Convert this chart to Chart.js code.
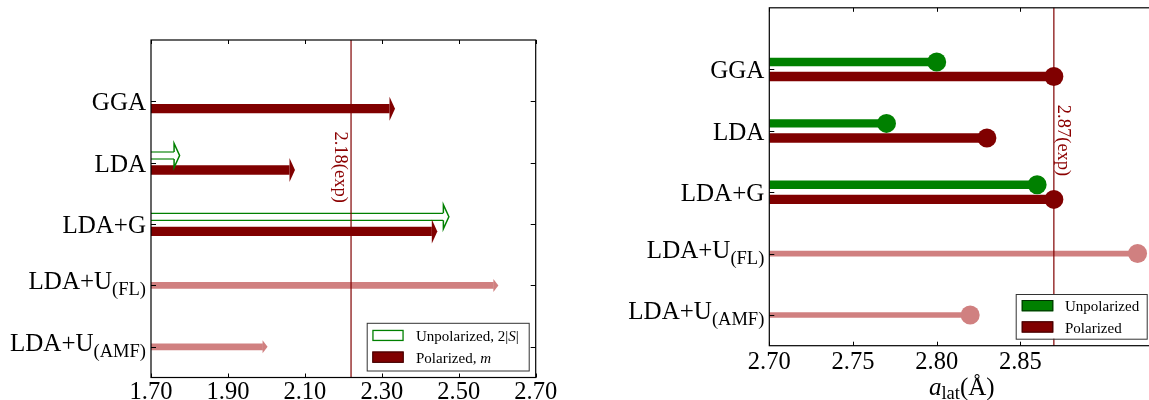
<!DOCTYPE html>
<html><head><meta charset="utf-8">
<script src="https://cdn.jsdelivr.net/npm/chart.js@4.4.1/dist/chart.umd.min.js"></script>
<style>
html,body{margin:0;padding:0;background:#fff;overflow:hidden;width:1149px;height:400px;position:relative;}
#cl{position:absolute;left:0;top:0;}
#cr{position:absolute;left:600px;top:0;}
</style></head><body>
<canvas id="cl" width="600" height="400"></canvas>
<canvas id="cr" width="570" height="400"></canvas>
<script>
// ---- data ----
const methods = ['GGA', 'LDA', 'LDA+G', 'LDA+U', 'LDA+U'];
const methodSubs = ['', '', '', '(FL)', '(AMF)'];

// left panel: magnetic moment
const momentUnpolarized = [null, 1.76, 2.46, null, null];   // 2|S|
const momentPolarized   = [2.32, 2.06, 2.43, null, null];   // m
const momentLdaU        = [null, null, null, 2.59, 1.99];
const momentTicks = [1.70, 1.90, 2.10, 2.30, 2.50, 2.70];
const momentExpLine = 2.22;
const momentExpLabel = '2.18(exp)';

// right panel: lattice constant
const latticeUnpolarized = [2.80, 2.77, 2.86, null, null];
const latticePolarized   = [2.87, 2.83, 2.87, null, null];
const latticeLdaU        = [null, null, null, 2.92, 2.82];
const latticeTicks = [2.70, 2.75, 2.80, 2.85];
const latticeExpLine = 2.87;
const latticeExpLabel = '2.87(exp)';

// ---- styles ----
const FONT = '"Liberation Serif", "Times New Roman", serif';
const GREEN = '#008000', MAROON = '#800000', PINK = '#d08080';

function rows(values) {
  return values.map((v, i) => v == null ? null : { x: v, y: i }).filter(Boolean);
}

function drawRich(ctx, parts, x, y, size) {
  let cx = x;
  parts.forEach(p => {
    ctx.font = (p.italic ? 'italic ' : '') + size + 'px ' + FONT;
    ctx.fillText(p.t, cx, y);
    cx += ctx.measureText(p.t).width;
  });
}

const decor = {
  id: 'decor',
  afterDatasetsDraw(chart, args, o) {
    const ctx = chart.ctx, ca = chart.chartArea, xs = chart.scales.x, ys = chart.scales.y;
    // end caps (arrow heads / circles) at bar ends computed by Chart.js
    chart.data.datasets.forEach((ds, di) => {
      const cap = ds.endCap; if (!cap) return;
      const meta = chart.getDatasetMeta(di);
      meta.data.forEach(el => {
        const x = el.x, y = el.y, bh = el.height / 2;
        ctx.save();
        if (cap.type === 'circle') {
          ctx.beginPath(); ctx.arc(x, y, cap.r, 0, Math.PI * 2);
          ctx.fillStyle = cap.fill; ctx.fill();
        } else {
          ctx.beginPath();
          ctx.moveTo(x, y - cap.half); ctx.lineTo(x + cap.len, y); ctx.lineTo(x, y + cap.half); ctx.closePath();
          ctx.fillStyle = cap.fill; ctx.fill();
          if (cap.stroke) {
            const lw = cap.lw;
            ctx.beginPath();
            ctx.moveTo(x, y - bh + lw / 2); ctx.lineTo(x, y - cap.half);
            ctx.lineTo(x + cap.len, y); ctx.lineTo(x, y + cap.half); ctx.lineTo(x, y + bh - lw / 2);
            ctx.strokeStyle = cap.stroke; ctx.lineWidth = lw; ctx.stroke();
          }
        }
        ctx.restore();
      });
    });
    ctx.save();
    // experimental line
    const lx = xs.getPixelForValue(o.expValue);
    ctx.strokeStyle = MAROON; ctx.lineWidth = 1.2;
    ctx.beginPath(); ctx.moveTo(lx, ca.top); ctx.lineTo(lx, ca.bottom); ctx.stroke();
    // rotated label
    ctx.save();
    ctx.translate(lx + o.expDx, ys.getPixelForValue(o.expY));
    ctx.rotate(Math.PI / 2);
    ctx.fillStyle = '#8b0000'; ctx.font = '18.5px ' + FONT;
    ctx.textAlign = 'left'; ctx.textBaseline = 'alphabetic';
    ctx.fillText(o.expLabel, 0, 0);
    ctx.restore();
    // frame
    ctx.strokeStyle = '#000'; ctx.lineWidth = 1.2;
    ctx.strokeRect(ca.left, ca.top, ca.right - ca.left, ca.bottom - ca.top);
    // inward ticks
    ctx.lineWidth = 1;
    ctx.beginPath();
    xs.ticks.forEach(t => {
      const px = Math.round(xs.getPixelForValue(t.value)) + 0.5;
      ctx.moveTo(px, ca.bottom); ctx.lineTo(px, ca.bottom - 4);
      ctx.moveTo(px, ca.top); ctx.lineTo(px, ca.top + 4);
    });
    ys.ticks.forEach(t => {
      const py = Math.round(ys.getPixelForValue(t.value)) + 0.5;
      ctx.moveTo(ca.left, py); ctx.lineTo(ca.left + 5, py);
      ctx.moveTo(ca.right, py); ctx.lineTo(ca.right - 5, py);
    });
    ctx.stroke();
    // category labels with subscripts
    ctx.fillStyle = '#000'; ctx.textBaseline = 'alphabetic'; ctx.textAlign = 'left';
    methods.forEach((m, i) => {
      const py = ys.getPixelForValue(i);
      const sub = methodSubs[i];
      ctx.font = '25px ' + FONT; const w1 = ctx.measureText(m).width;
      let w2 = 0;
      if (sub) { ctx.font = '18.5px ' + FONT; w2 = ctx.measureText(sub).width; }
      const x0 = ca.left - 5 - w1 - w2;
      const base = sub ? py + 4 : py + 9;
      ctx.font = '25px ' + FONT; ctx.fillText(m, x0, base);
      if (sub) { ctx.font = '18.5px ' + FONT; ctx.fillText(sub, x0 + w1, base + 6); }
    });
    // axis title
    if (o.title) {
      let tw = 0;
      o.title.forEach(p => { ctx.font = (p.italic ? 'italic ' : '') + p.size + 'px ' + FONT; tw += ctx.measureText(p.t).width; });
      let cx = (ca.left + ca.right) / 2 - tw / 2;
      o.title.forEach(p => {
        ctx.font = (p.italic ? 'italic ' : '') + p.size + 'px ' + FONT;
        ctx.fillText(p.t, cx, o.titleY + (p.dy || 0));
        cx += ctx.measureText(p.t).width;
      });
    }
    // legend
    const L = o.legend;
    const bx = ca.right - L.gapR - L.w, by = ca.bottom - L.gapB - L.h;
    ctx.fillStyle = '#fff'; ctx.fillRect(bx, by, L.w, L.h);
    ctx.strokeStyle = '#333'; ctx.lineWidth = 1; ctx.strokeRect(bx + 0.5, by + 0.5, L.w, L.h);
    L.items.forEach((it, k) => {
      const px = bx + L.px, py = by + L.rows[k];
      ctx.fillStyle = it.fill; ctx.fillRect(px, py, L.pw, L.ph);
      ctx.strokeStyle = it.stroke; ctx.lineWidth = it.lw;
      ctx.strokeRect(px + it.lw / 2, py + it.lw / 2, L.pw - it.lw, L.ph - it.lw);
      ctx.fillStyle = '#000';
      drawRich(ctx, it.parts, px + L.pw + L.tg, py + L.ph, 15);
    });
    ctx.restore();
  }
};

function xScale(min, max, ticks, height, pad) {
  return {
    type: 'linear', min: min, max: max, offset: false, beginAtZero: false,
    afterBuildTicks: s => { s.ticks = ticks.map(v => ({ value: v })); },
    ticks: { font: { family: FONT, size: 24.5 }, color: '#000', padding: pad, maxRotation: 0, autoSkip: false,
             callback: v => Number(v).toFixed(2) },
    grid: { display: false, drawTicks: false, offset: false }, border: { display: false },
    afterFit: s => { s.height = height; }
  };
}
function yScale() {
  return {
    type: 'linear', reverse: true, min: -1, max: 4.5, offset: false,
    afterBuildTicks: s => { s.ticks = methods.map((m, i) => ({ value: i })); },
    ticks: { display: false }, grid: { display: false, drawTicks: false, offset: false }, border: { display: false },
    afterFit: s => { s.width = 0; }
  };
}

new Chart(document.getElementById('cl'), {
  type: 'bar',
  data: { datasets: [
    { label: 'Unpolarized, 2|S|', data: rows(momentUnpolarized), base: 1.70,
      backgroundColor: '#fff', borderColor: GREEN, borderWidth: { top: 1.5, bottom: 1.5, left: 0, right: 0 }, borderSkipped: false,
      categoryPercentage: 0.475, barPercentage: 0.58,
      endCap: { type: 'arrow', half: 12, len: 5.5, fill: '#fff', stroke: GREEN, lw: 1.5 } },
    { label: 'Polarized, m', data: rows(momentPolarized), base: 1.70,
      backgroundColor: MAROON, borderWidth: 0, categoryPercentage: 0.475, barPercentage: 0.64,
      endCap: { type: 'arrow', half: 12, len: 5.5, fill: MAROON } },
    { label: 'LDA+U', data: rows(momentLdaU), base: 1.70, grouped: false, barThickness: 6,
      backgroundColor: PINK, borderWidth: 0,
      endCap: { type: 'arrow', half: 6.5, len: 5, fill: PINK } }
  ] },
  options: {
    indexAxis: 'y', responsive: false, animation: false, events: [],
    layout: { padding: { left: 151, right: 64.3, top: 40, bottom: 0 } },
    plugins: {
      legend: { display: false }, tooltip: { enabled: false },
      decor: {
        expValue: momentExpLine, expLabel: momentExpLabel, expDx: -15.6, expY: 0.49,
        legend: { w: 162, h: 47.7, gapR: 7, gapB: 7, px: 5.6, pw: 31.4, ph: 11.3, tg: 12.3, rows: [7, 28.7],
          items: [
            { fill: '#fff', stroke: GREEN, lw: 1.3, parts: [{ t: 'Unpolarized, 2|' }, { t: 'S', italic: true }, { t: '|' }] },
            { fill: MAROON, stroke: '#3a0000', lw: 1, parts: [{ t: 'Polarized, ' }, { t: 'm', italic: true }] }
          ] }
      }
    },
    scales: { x: xScale(1.70, 2.70, momentTicks, 22.5, 0), y: yScale() }
  },
  plugins: [decor]
});

new Chart(document.getElementById('cr'), {
  type: 'bar',
  data: { datasets: [
    { label: 'Unpolarized', data: rows(latticeUnpolarized), base: 2.70,
      backgroundColor: GREEN, borderWidth: 0, categoryPercentage: 0.475, barPercentage: 0.58,
      endCap: { type: 'circle', r: 9.5, fill: GREEN } },
    { label: 'Polarized', data: rows(latticePolarized), base: 2.70,
      backgroundColor: MAROON, borderWidth: 0, categoryPercentage: 0.475, barPercentage: 0.64,
      endCap: { type: 'circle', r: 9.5, fill: MAROON } },
    { label: 'LDA+U', data: rows(latticeLdaU), base: 2.70, grouped: false, barThickness: 5,
      backgroundColor: PINK, borderWidth: 0,
      endCap: { type: 'circle', r: 9.5, fill: PINK } }
  ] },
  options: {
    indexAxis: 'y', responsive: false, animation: false, events: [],
    layout: { padding: { left: 169.3, right: 15.7, top: 7.8, bottom: 0 } },
    plugins: {
      legend: { display: false }, tooltip: { enabled: false },
      decor: {
        expValue: latticeExpLine, expLabel: latticeExpLabel, expDx: 4, expY: 0.58,
        title: [{ t: 'a', italic: true, size: 25 }, { t: 'lat', size: 18.5, dy: 4 }, { t: '(Å)', size: 25 }],
        titleY: 395,
        legend: { w: 131, h: 44.7, gapR: 7.6, gapB: 7, px: 6, pw: 31.6, ph: 11.3, tg: 11.7, rows: [6, 27.3],
          items: [
            { fill: GREEN, stroke: '#003000', lw: 1, parts: [{ t: 'Unpolarized' }] },
            { fill: MAROON, stroke: '#3a0000', lw: 1, parts: [{ t: 'Polarized' }] }
          ] }
      }
    },
    scales: { x: xScale(2.70, 2.93, latticeTicks, 54.3, 2), y: yScale() }
  },
  plugins: [decor]
});
</script>
</body></html>
